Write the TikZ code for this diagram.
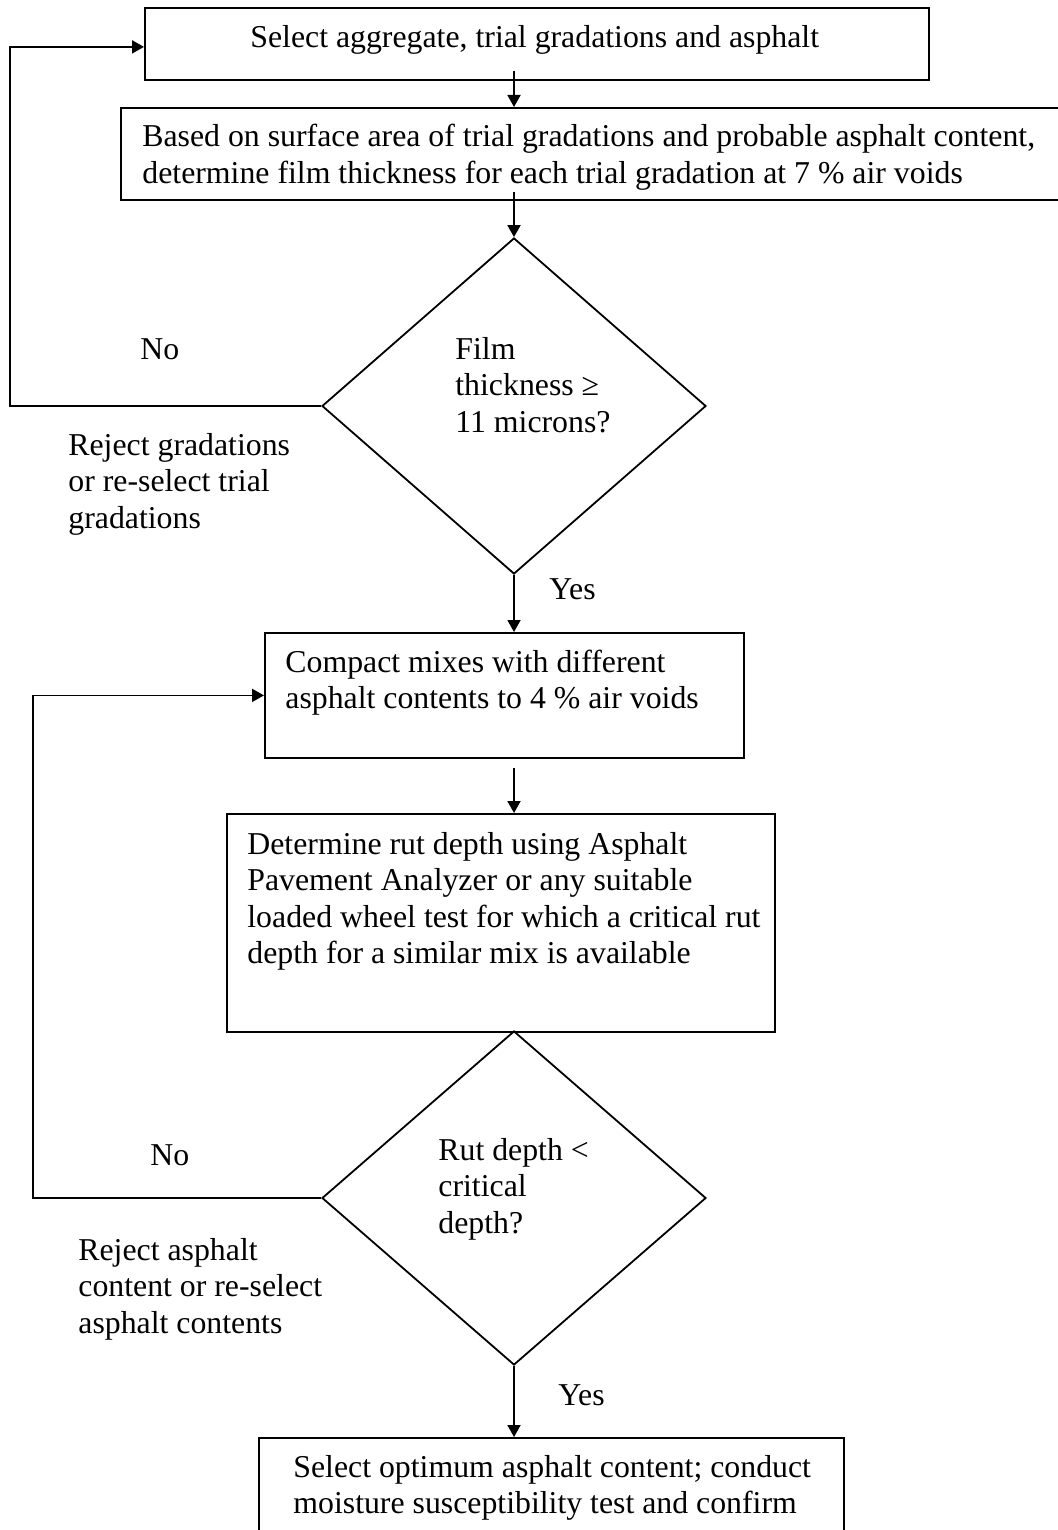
\documentclass[tikz,border=0pt]{standalone}
\usepackage{fontspec}
\setmainfont{Liberation Serif}
\usetikzlibrary{arrows.meta,shapes.geometric}
\newcommand\lines[1]{\begin{tabular}[t]{@{}l@{}}#1\end{tabular}}
\begin{document}
\begin{tikzpicture}[x=0.5pt,y=-0.5pt,
  box/.style={draw, line width=0.9pt, rectangle, inner sep=0pt, anchor=north west},
  dia/.style={draw, line width=0.9pt, diamond, inner sep=0pt, minimum width=192pt, minimum height=168pt},
  txt/.style={anchor=base west, inner sep=0pt, font=\fontsize{15.9pt}{18.25pt}\selectfont},
  arr/.style={line width=0.9pt, -{Triangle[length=6pt,width=6.5pt]}},
  ]
\useasboundingbox (0,0) rectangle (1057,1530);
% shapes
\node[box, minimum width=392pt, minimum height=36pt] (b1) at (144,7) {};
\node[box, minimum width=470pt, minimum height=46pt] (b2) at (120,107) {};
\node[dia] (d1) at (514,406) {};
\node[box, minimum width=239.5pt, minimum height=62.5pt] (b3) at (264,632) {};
\node[box, minimum width=274pt, minimum height=109pt] (b4) at (226,813) {};
\node[dia, minimum height=167pt] (d2) at (514,1198) {};
\node[box, minimum width=292.5pt, minimum height=70pt] (b5) at (258,1437) {};
% texts
\node[txt] (t1) at (250,48) {Select aggregate, trial gradations and asphalt};
\node[txt] (t2) at (142,147) {\lines{Based on surface area of trial gradations and probable asphalt content,\\determine film thickness for each trial gradation at 7 \% air voids}};
\node[txt] (t3) at (455,359) {\lines{Film\\thickness ≥\\11 microns?}};
\node[txt] (no1) at (140,359) {No};
\node[txt] (r1) at (68,455) {\lines{Reject gradations\\or re-select trial\\gradations}};
\node[txt] (y1) at (549,599) {Yes};
\node[txt] (t4) at (285,672) {\lines{Compact mixes with different\\asphalt contents to 4 \% air voids}};
\node[txt] (t5) at (247,854) {\lines{Determine rut depth using Asphalt\\Pavement Analyzer or any suitable\\loaded wheel test for which a critical rut\\depth for a similar mix is available}};
\node[txt] (t6) at (438,1160) {\lines{Rut depth <\\critical\\depth?}};
\node[txt] (no2) at (150,1165) {No};
\node[txt] (r2) at (78,1260) {\lines{Reject asphalt\\content or re-select\\asphalt contents}};
\node[txt] (y2) at (558,1405) {Yes};
\node[txt] (t7) at (293,1477) {\lines{Select optimum asphalt content; conduct\\moisture susceptibility test and confirm}};
% connectors
\coordinate (a1) at (b1.south -| d1.north);
\coordinate (a2) at (b2.south -| d1.north);
\coordinate (a4) at (b3.south -| d1.north);
\coordinate (lx1) at (10,0);
\coordinate (lx2) at (33,0);
\draw[arr] ([yshift=5pt]a1) -- (a1 |- b2.north);
\draw[arr] ([yshift=4.5pt]a2) -- (d1.north);
\draw[arr] (d1.south) -- (d1.south |- b3.north);
\draw[arr] ([yshift=-4.5pt]a4) -- (a4 |- b4.north);
\draw[arr] (d2.south) -- (d2.south |- b5.north);
\draw[arr] (d1.west) -- (d1.west -| lx1) |- ([yshift=-1.5pt]b1.west);
\draw[arr] (d2.west) -- (d2.west -| lx2) |- (b3.west);
\end{tikzpicture}
\end{document}
